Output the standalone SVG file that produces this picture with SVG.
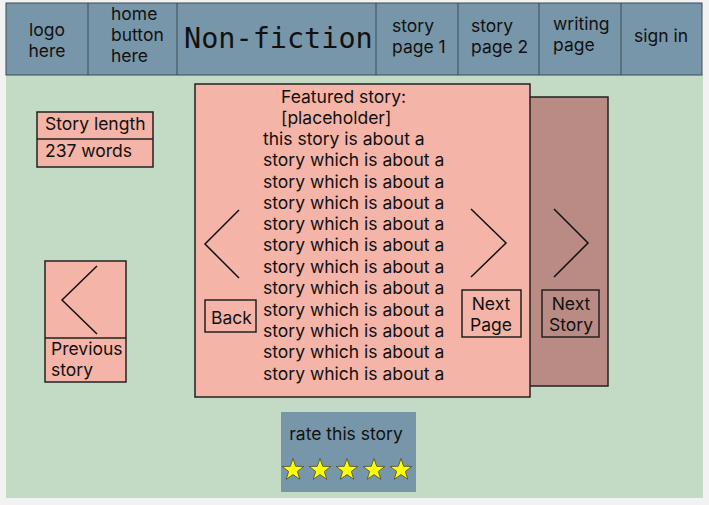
<svg xmlns="http://www.w3.org/2000/svg" xmlns:xlink="http://www.w3.org/1999/xlink" width="709" height="505" viewBox="0 0 709 505">
<style>
text{font-family:Inter,"Noto Sans","Liberation Sans",sans-serif;font-size:17.5px;fill:#111}
.nav{fill:#7896a9;stroke:#3a4a55;stroke-width:1}
.pink{fill:#f4b4a8;stroke:#222;stroke-width:1.5}
.dark{fill:#b98b84;stroke:#222;stroke-width:1.5}
.btn{fill:none;stroke:#222;stroke-width:1.5}
.chev{fill:none;stroke:#111;stroke-width:1.5}
.mono{font-family:"DejaVu Sans Mono","Liberation Mono",monospace;font-size:28.5px}
.mid{text-anchor:middle}
.star{fill:#ffff00;stroke:#555533;stroke-width:0.9}
</style>
<defs>
<path id="star" d="M0,-11.5 L2.7,-3.7 L10.9,-3.55 L4.37,1.42 L6.76,9.3 L0,4.6 L-6.76,9.3 L-4.37,1.42 L-10.9,-3.55 L-2.7,-3.7 Z"/>
</defs>
<rect x="0" y="0" width="709" height="505" fill="#f2f2f2"/>
<rect x="6" y="74" width="697" height="424" fill="#c3dbc5"/>
<g id="header">
<rect class="nav" x="6" y="3" width="696" height="72"/>
<line x1="88" y1="3" x2="88" y2="75" stroke="#3a4a55"/>
<line x1="177" y1="3" x2="177" y2="75" stroke="#3a4a55"/>
<line x1="376" y1="3" x2="376" y2="75" stroke="#3a4a55"/>
<line x1="458" y1="3" x2="458" y2="75" stroke="#3a4a55"/>
<line x1="539" y1="3" x2="539" y2="75" stroke="#3a4a55"/>
<line x1="621" y1="3" x2="621" y2="75" stroke="#3a4a55"/>
</g>
<g id="nav-logo"><text class="mid" x="47" y="36">logo</text><text class="mid" x="47" y="57">here</text></g>
<g id="nav-home"><text x="111" y="20">home</text><text x="111" y="41">button</text><text x="111" y="62">here</text></g>
<g id="nav-title"><text class="mono" x="184" y="48">Non-fiction</text></g>
<g id="nav-story1"><text x="392" y="32">story</text><text x="392" y="53">page 1</text></g>
<g id="nav-story2"><text x="471" y="32">story</text><text x="471" y="53">page 2</text></g>
<g id="nav-writing"><text x="553" y="30">writing</text><text x="553" y="51">page</text></g>
<g id="nav-signin"><text x="634" y="42">sign in</text></g>
<g id="story-length">
<rect class="pink" x="37" y="112" width="116" height="55"/>
<line x1="37" y1="139" x2="153" y2="139" stroke="#222" stroke-width="1.5"/>
<text x="45" y="130">Story length</text>
<text x="45" y="157">237 words</text>
</g>
<g id="previous-story">
<rect class="pink" x="45" y="261" width="81" height="121"/>
<line x1="45" y1="338" x2="126" y2="338" stroke="#222" stroke-width="1.5"/>
<polyline class="chev" points="97,266 62,300 97,334"/>
<text x="51" y="355">Previous</text>
<text x="51" y="376">story</text>
</g>
<g id="next-story-card">
<rect class="dark" x="520" y="97" width="88" height="289"/>
<polyline class="chev" points="554,209 588,243 554,277"/>
<rect class="btn" x="542" y="290" width="57" height="47"/>
<text class="mid" x="571" y="310">Next</text>
<text class="mid" x="571" y="331">Story</text>
</g>
<g id="featured-story">
<rect class="pink" x="195" y="84" width="335" height="313"/>
<text x="281" y="103">Featured story:</text>
<text x="281" y="124">[placeholder]</text>
<text x="263" y="145">this story is about a</text>
<text x="263" y="166">story which is about a</text>
<text x="263" y="188">story which is about a</text>
<text x="263" y="209">story which is about a</text>
<text x="263" y="230">story which is about a</text>
<text x="263" y="251">story which is about a</text>
<text x="263" y="273">story which is about a</text>
<text x="263" y="294">story which is about a</text>
<text x="263" y="316">story which is about a</text>
<text x="263" y="337">story which is about a</text>
<text x="263" y="358">story which is about a</text>
<text x="263" y="380">story which is about a</text>
<polyline class="chev" points="239,210 205,244 239,278"/>
<rect class="btn" x="205" y="300" width="51" height="32"/>
<text x="211" y="324">Back</text>
<polyline class="chev" points="471,209 506,243 471,277"/>
<rect class="btn" x="462" y="290" width="59" height="47"/>
<text class="mid" x="491" y="310">Next</text>
<text class="mid" x="491" y="331">Page</text>
</g>
<g id="rating">
<rect x="281" y="412" width="135" height="80" fill="#7896a9"/>
<text class="mid" x="346" y="440">rate this story</text>
<use class="star" xlink:href="#star" href="#star" x="293" y="470"/>
<use class="star" xlink:href="#star" href="#star" x="320" y="470"/>
<use class="star" xlink:href="#star" href="#star" x="347" y="470"/>
<use class="star" xlink:href="#star" href="#star" x="374" y="470"/>
<use class="star" xlink:href="#star" href="#star" x="401" y="470"/>
</g>
<g id="connectors"/>
</svg>
